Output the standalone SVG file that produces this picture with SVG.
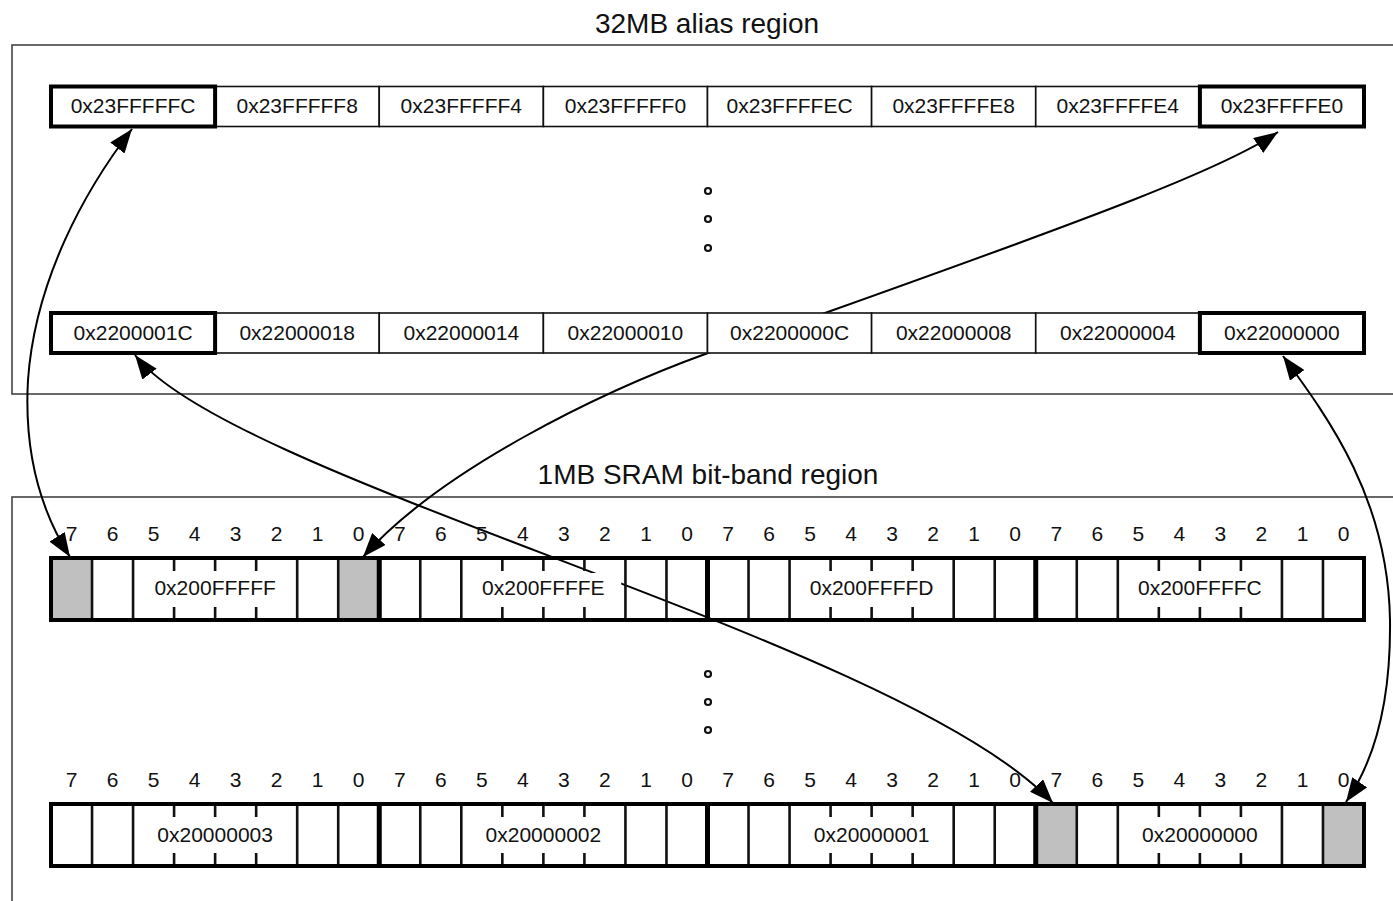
<svg xmlns="http://www.w3.org/2000/svg" xmlns:xlink="http://www.w3.org/1999/xlink" width="1393" height="901" viewBox="0 0 1393 901">
  <style>
    text { font-family: "Liberation Sans", Arial, sans-serif; fill: #111; }
    .title { font-size: 28px; text-anchor: middle; }
    .lbl { font-size: 21px; text-anchor: middle; }
    .bit { font-size: 21px; text-anchor: middle; }
    .frame { fill: none; stroke: #444; stroke-width: 1.6; }
    .acell { fill: #fff; stroke: #111; stroke-width: 1.6; }
    .acell.sel { fill: none; stroke: #000; stroke-width: 4; }
    .cell { fill: none; stroke: #111; stroke-width: 2.6; }
    .row { fill: none; stroke: #000; stroke-width: 4; }
    .bytesep { stroke: #000; stroke-width: 5; }
    .set { fill: #c0c0c0; }
    .lblbg { fill: #fff; }
    .dot { fill: #fff; stroke: #111; stroke-width: 2.2; }
    .link { fill: none; stroke: #000; stroke-width: 2; marker-start: url(#head); marker-end: url(#head); }
  </style>
  <defs>
    <marker id="head" viewBox="0 0 24 18" refX="24" refY="9" markerWidth="24" markerHeight="18" markerUnits="userSpaceOnUse" orient="auto-start-reverse">
      <path d="M0,0 L24,9 L0,18 z" fill="#000"/>
    </marker>
    <!-- internal lines of one byte (8 bit cells, 41.03 wide); bits 5..2 share the label, so only ticks there -->
    <g id="byte-grid">
      <path class="cell" d="M41.03,0V62 M82.06,0V62 M246.19,0V62 M287.22,0V62"/>
      <path class="cell" d="M123.09,0V13 M164.13,0V13 M205.16,0V13 M123.09,49V62 M164.13,49V62 M205.16,49V62"/>
    </g>
  </defs>

  <rect width="1393" height="901" fill="#fff"/>

  <!-- region frames and titles -->
  <g id="alias-region">
    <rect class="frame" x="12" y="45" width="1400" height="349"/>
    <text class="title" x="707" y="33">32MB alias region</text>
  </g>
  <g id="sram-region">
    <rect class="frame" x="12" y="497" width="1400" height="420"/>
    <text class="title" x="708" y="484">1MB SRAM bit-band region</text>
  </g>

  <!-- bit-band mapping connectors -->
  <g id="connectors">
    <path class="link" d="M132,129 C85,190 35,280 28,380 C24,450 40,510 70,557"/>
    <path class="link" d="M1278,132 C1225,168 1100,215 825,313 L708,353 C600,392 440,470 363,557"/>
    <path class="link" d="M135,355 C230,480 900,640 1053,803"/>
    <path class="link" d="M1283,356 C1330,420 1388,500 1390,620 C1391,700 1375,760 1346,802"/>
  </g>

  <!-- alias words, upper row -->
  <g id="alias-top">
    <g id="a-23FFFFFC"><rect class="acell" x="51" y="86.5" width="164.1" height="40"/><text class="lbl" x="133.1" y="113">0x23FFFFFC</text></g>
    <g id="a-23FFFFF8"><rect class="acell" x="215.1" y="86.5" width="164.1" height="40"/><text class="lbl" x="297.2" y="113">0x23FFFFF8</text></g>
    <g id="a-23FFFFF4"><rect class="acell" x="379.25" y="86.5" width="164.1" height="40"/><text class="lbl" x="461.3" y="113">0x23FFFFF4</text></g>
    <g id="a-23FFFFF0"><rect class="acell" x="543.4" y="86.5" width="164.1" height="40"/><text class="lbl" x="625.4" y="113">0x23FFFFF0</text></g>
    <g id="a-23FFFFEC"><rect class="acell" x="707.5" y="86.5" width="164.1" height="40"/><text class="lbl" x="789.6" y="113">0x23FFFFEC</text></g>
    <g id="a-23FFFFE8"><rect class="acell" x="871.6" y="86.5" width="164.1" height="40"/><text class="lbl" x="953.7" y="113">0x23FFFFE8</text></g>
    <g id="a-23FFFFE4"><rect class="acell" x="1035.75" y="86.5" width="164.1" height="40"/><text class="lbl" x="1117.8" y="113">0x23FFFFE4</text></g>
    <g id="a-23FFFFE0"><rect class="acell" x="1199.9" y="86.5" width="164.1" height="40"/><text class="lbl" x="1281.9" y="113">0x23FFFFE0</text></g>
    <rect class="acell sel" x="51" y="86.5" width="164.1" height="40"/>
    <rect class="acell sel" x="1199.9" y="86.5" width="164.1" height="40"/>
  </g>

  <g id="alias-dots">
    <circle class="dot" cx="708" cy="191" r="3"/>
    <circle class="dot" cx="708" cy="219" r="3"/>
    <circle class="dot" cx="708" cy="248" r="3"/>
  </g>

  <!-- alias words, lower row -->
  <g id="alias-bottom">
    <g id="a-2200001C"><rect class="acell" x="51" y="313" width="164.1" height="40"/><text class="lbl" x="133.1" y="340">0x2200001C</text></g>
    <g id="a-22000018"><rect class="acell" x="215.1" y="313" width="164.1" height="40"/><text class="lbl" x="297.2" y="340">0x22000018</text></g>
    <g id="a-22000014"><rect class="acell" x="379.25" y="313" width="164.1" height="40"/><text class="lbl" x="461.3" y="340">0x22000014</text></g>
    <g id="a-22000010"><rect class="acell" x="543.4" y="313" width="164.1" height="40"/><text class="lbl" x="625.4" y="340">0x22000010</text></g>
    <g id="a-2200000C"><rect class="acell" x="707.5" y="313" width="164.1" height="40"/><text class="lbl" x="789.6" y="340">0x2200000C</text></g>
    <g id="a-22000008"><rect class="acell" x="871.6" y="313" width="164.1" height="40"/><text class="lbl" x="953.7" y="340">0x22000008</text></g>
    <g id="a-22000004"><rect class="acell" x="1035.75" y="313" width="164.1" height="40"/><text class="lbl" x="1117.8" y="340">0x22000004</text></g>
    <g id="a-22000000"><rect class="acell" x="1199.9" y="313" width="164.1" height="40"/><text class="lbl" x="1281.9" y="340">0x22000000</text></g>
    <rect class="acell sel" x="51" y="313" width="164.1" height="40"/>
    <rect class="acell sel" x="1199.9" y="313" width="164.1" height="40"/>
  </g>

  <!-- SRAM bytes, upper row -->
  <text class="bit" y="541" x="71.5 112.5 153.6 194.6 235.6 276.7 317.7 358.7 399.8 440.8 481.8 522.9 563.9 604.9 646 687 728 769 810.1 851.1 892.1 933.2 974.2 1015.2 1056.3 1097.3 1138.3 1179.4 1220.4 1261.4 1302.5 1343.5">76543210765432107654321076543210</text>
  <g id="b-200FFFFF" transform="translate(51,558)">
    <rect class="set" x="0" y="0" width="41.03" height="62"/>
    <rect class="set" x="287.22" y="0" width="41.03" height="62"/>
    <use xlink:href="#byte-grid"/>
    <rect class="lblbg" x="86" y="15" width="156" height="32"/>
    <text class="lbl" x="164.13" y="37">0x200FFFFF</text>
  </g>
  <g id="b-200FFFFE" transform="translate(379.25,558)">
    <use xlink:href="#byte-grid"/>
    <rect class="lblbg" x="86" y="15" width="156" height="32"/>
    <text class="lbl" x="164.13" y="37">0x200FFFFE</text>
  </g>
  <g id="b-200FFFFD" transform="translate(707.5,558)">
    <use xlink:href="#byte-grid"/>
    <rect class="lblbg" x="86" y="15" width="156" height="32"/>
    <text class="lbl" x="164.13" y="37">0x200FFFFD</text>
  </g>
  <g id="b-200FFFFC" transform="translate(1035.75,558)">
    <use xlink:href="#byte-grid"/>
    <rect class="lblbg" x="86" y="15" width="156" height="32"/>
    <text class="lbl" x="164.13" y="37">0x200FFFFC</text>
  </g>
  <g id="row-top-outline">
    <rect class="row" x="51" y="558" width="1313" height="62"/>
    <path class="bytesep" d="M379.25,558V620 M707.5,558V620 M1035.75,558V620"/>
  </g>

  <g id="sram-dots">
    <circle class="dot" cx="708" cy="674" r="3"/>
    <circle class="dot" cx="708" cy="702" r="3"/>
    <circle class="dot" cx="708" cy="730" r="3"/>
  </g>

  <!-- SRAM bytes, lower row -->
  <text class="bit" y="787" x="71.5 112.5 153.6 194.6 235.6 276.7 317.7 358.7 399.8 440.8 481.8 522.9 563.9 604.9 646 687 728 769 810.1 851.1 892.1 933.2 974.2 1015.2 1056.3 1097.3 1138.3 1179.4 1220.4 1261.4 1302.5 1343.5">76543210765432107654321076543210</text>
  <g id="b-20000003" transform="translate(51,804)">
    <use xlink:href="#byte-grid"/>
    <rect class="lblbg" x="86" y="15" width="156" height="32"/>
    <text class="lbl" x="164.13" y="38">0x20000003</text>
  </g>
  <g id="b-20000002" transform="translate(379.25,804)">
    <use xlink:href="#byte-grid"/>
    <rect class="lblbg" x="86" y="15" width="156" height="32"/>
    <text class="lbl" x="164.13" y="38">0x20000002</text>
  </g>
  <g id="b-20000001" transform="translate(707.5,804)">
    <use xlink:href="#byte-grid"/>
    <rect class="lblbg" x="86" y="15" width="156" height="32"/>
    <text class="lbl" x="164.13" y="38">0x20000001</text>
  </g>
  <g id="b-20000000" transform="translate(1035.75,804)">
    <rect class="set" x="0" y="0" width="41.03" height="62"/>
    <rect class="set" x="287.22" y="0" width="41.03" height="62"/>
    <use xlink:href="#byte-grid"/>
    <rect class="lblbg" x="86" y="15" width="156" height="32"/>
    <text class="lbl" x="164.13" y="38">0x20000000</text>
  </g>
  <g id="row-bottom-outline">
    <rect class="row" x="51" y="804" width="1313" height="62"/>
    <path class="bytesep" d="M379.25,804V866 M707.5,804V866 M1035.75,804V866"/>
  </g>
</svg>
